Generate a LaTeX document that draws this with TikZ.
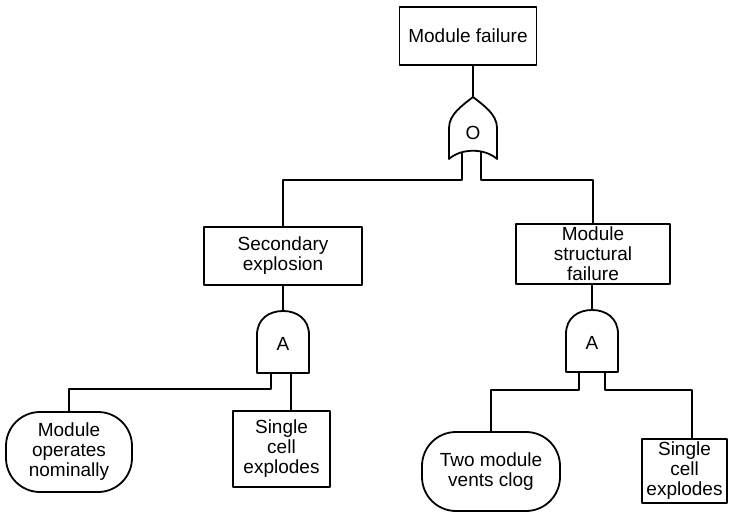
\documentclass[tikz,border=0pt]{standalone}
\usepackage{fontspec}
\setmainfont{Liberation Sans}
\usetikzlibrary{calc}
\tikzset{
  lbl/.style={font=\fontsize{19}{20}\selectfont, align=center, inner sep=0pt},
  eventbox/.style 2 args={lbl, draw, rectangle, minimum width=#1, minimum height=#2},
  basicev/.style 2 args={lbl, draw, rectangle, rounded corners=34pt, minimum width=#1, minimum height=#2},
  % OR gate, origin at the tip
  pics/orgate/.style={code={
    \draw (0,0) .. controls (-10,8) and (-24,17) .. (-24,31) -- (-24,62)
          .. controls (-12,51) and (12,51) .. (24,62) -- (24,31)
          .. controls (24,17) and (10,8) .. (0,0) -- cycle;
    \coordinate (-top) at (0,0);
    \coordinate (-l) at (-11,55);
    \coordinate (-r) at (8,55);
    \node[lbl] (-sym) at (0,36) {O};
  }},
  % AND gate, origin at the top of the dome; #1, #2 = x of the two lower stubs
  pics/andgate/.style 2 args={code={
    \draw (-26,62) -- (-26,24) .. controls (-26,8) and (-14,0) .. (0,0)
          .. controls (14,0) and (26,8) .. (26,24) -- (26,62) -- cycle;
    \coordinate (-top) at (0,0);
    \coordinate (-l) at (#1,62);
    \coordinate (-r) at (#2,62);
    \node[lbl] (-sym) at (0,33) {A};
  }}
}
\begin{document}
\begin{tikzpicture}[x=1pt, y=-1pt, line width=1.8pt, line join=round]
\useasboundingbox (0,0) rectangle (736,518);

% events
\node[eventbox={137pt}{58pt}] (top) at (468,36) {Module failure};
\node[eventbox={158pt}{58pt}] (sec) at (283,256) {Secondary\\explosion};
\node[eventbox={154pt}{60pt}] (msf) at (593,254) {Module\\structural\\failure};
\node[basicev={126pt}{80pt}] (mon) at (69,452) {Module\\operates\\nominally};
\node[eventbox={97pt}{76pt}] (sce1) at (281.5,449) {Single\\cell\\explodes};
\node[basicev={138pt}{79pt}] (tmv) at (491,471.5) {Two module\\vents clog};
\node[eventbox={85pt}{64pt}] (sce2) at (684.5,471) {Single\\cell\\explodes};

% gates
\pic (org) at (473,97) {orgate};
\pic (and1) at (283,311) {andgate={-12}{8}};
\pic (and2) at (592,310) {andgate={-13}{13}};

\coordinate (sce1in) at ($(sce1.north)+(9.5,0)$);
\coordinate (sce2in) at ($(sce2.north)+(7.5,0)$);

% connectors
\draw (top.south -| org-top) -- (org-top);
\draw (org-l) -- ++(0,28) -| (sec.north);
\draw (org-r) -- ++(0,28) -| (msf.north);
\draw (sec.south) -- (and1-top);
\draw (msf.south -| and2-top) -- (and2-top);
\draw (and1-l) -- ++(0,16) -| (mon.north);
\draw (and1-r) -- (sce1in);
\draw (and2-l) -- ++(0,18) -| (tmv.north);
\draw (and2-r) -- ++(0,18) -| (sce2in);
\end{tikzpicture}
\end{document}
